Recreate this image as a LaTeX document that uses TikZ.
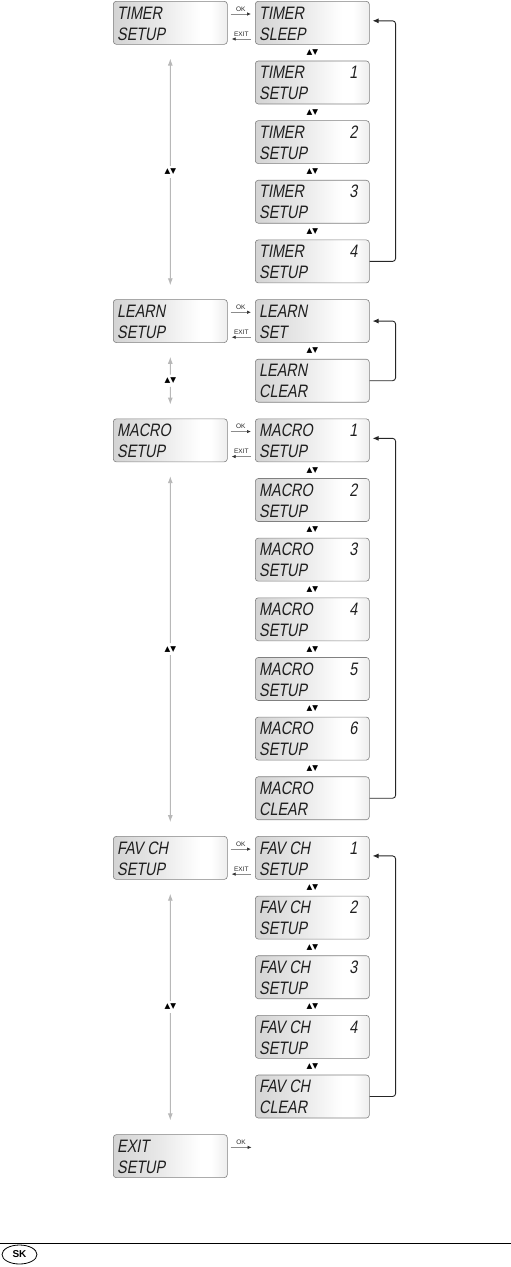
\documentclass[tikz,border=0pt]{standalone}
\usepackage{fontspec}
\setmainfont{Liberation Sans}
\newfontfamily\lcdfont[FakeStretch=0.8,FakeSlant=0.18]{Liberation Sans}
\newfontfamily\symfont{DejaVu Sans}
\usetikzlibrary{arrows.meta,shapes.geometric,calc}
\pgfdeclarehorizontalshading{lcdshade}{100bp}{color(0bp)=(black!17); color(25bp)=(black!17); color(45bp)=(black!9); color(63bp)=(white); color(68bp)=(white); color(75bp)=(black!7); color(100bp)=(black!7)}
\tikzset{
  lcd/.style={draw=black!50, line width=0.6pt, rounded corners=3pt, shading=lcdshade,
    minimum width=114pt, minimum height=43pt, inner sep=0pt, anchor=north west},
  lcdtxt/.style={font=\lcdfont\fontsize{18}{18}\selectfont, text=black!88, inner sep=0pt},
  small/.style={font=\fontsize{6.5}{7}\selectfont, inner sep=0pt, text=black!85},
  updown/.style={font=\symfont\fontsize{7.5}{7.5}\selectfont, inner sep=3pt, text=black},
  grayarr/.style={draw=black!28, line width=0.9pt, -{Latex[length=7pt,width=5pt]}},
  okarr/.style={draw=black!45, line width=0.7pt, -{Latex[length=4pt,width=3.5pt,black!80]}},
  looparr/.style={draw=black!85, line width=0.9pt, rounded corners=3pt, -{Latex[length=6pt,width=5pt]}}
}
\newcommand\lcdbox[6]{%
  \node[lcd] (#1) at (#2,#3) {};
  \node[lcdtxt, anchor=base west] (#1-a) at ($(#1.north west)+(4,18)$) {#4};
  \node[lcdtxt, anchor=base west] (#1-b) at ($(#1.north west)+(4,39)$) {#5};
  \node[lcdtxt, anchor=base east] (#1-d) at ($(#1.north east)+(-12,18)$) {#6};
}
\newcommand\okexit[2]{%
  \draw[okarr] ($(#1.north east)+(3,13)$) coordinate (#1-o1) -- ($(#2.north west)+(-4,13)$) coordinate (#1-o2);
  \node[small, anchor=base] (#1-ok) at ($(#1-o1)!0.5!(#1-o2)+(0,-3)$) {OK};
  \draw[okarr] ($(#2.north west)+(-4,38)$) coordinate (#1-e1) -- ($(#1.north east)+(4,38)$) coordinate (#1-e2);
  \node[small, anchor=base] (#1-ex) at ($(#1-e1)!0.5!(#1-e2)+(0,-3)$) {EXIT};
}
\newcommand\updn[3]{% name, upper node, lower node
  \node[updown] (#1) at ($(#2.south)!0.5!(#3.north)$) {▲▼};
}
\newcommand\grayv[3]{% name, upper node, lower node
  \updn{#1}{#2}{#3}
  \draw[grayarr] (#1.north) -- ($(#2.south)+(0,14)$);
  \draw[grayarr] (#1.south) -- ($(#3.north)+(0,-14)$);
}
\begin{document}
\begin{tikzpicture}[x=1pt,y=-1pt]
\useasboundingbox (0,0) rectangle (511,1267);
\def\P{59.65}
% left column
\lcdbox{ts}{113}{1}{TIMER}{SETUP}{}
\lcdbox{ls}{113}{1+5*\P}{LEARN}{SETUP}{}
\lcdbox{ms}{113}{1+7*\P}{MACRO}{SETUP}{}
\lcdbox{fs}{113}{1+14*\P}{FAV CH}{SETUP}{}
\lcdbox{es}{113}{1+19*\P}{EXIT}{SETUP}{}
% right column
\lcdbox{t0}{255}{1}{TIMER}{SLEEP}{}
\lcdbox{t1}{255}{1+1*\P}{TIMER}{SETUP}{1}
\lcdbox{t2}{255}{1+2*\P}{TIMER}{SETUP}{2}
\lcdbox{t3}{255}{1+3*\P}{TIMER}{SETUP}{3}
\lcdbox{t4}{255}{1+4*\P}{TIMER}{SETUP}{4}
\lcdbox{l0}{255}{1+5*\P}{LEARN}{SET}{}
\lcdbox{l1}{255}{1+6*\P}{LEARN}{CLEAR}{}
\lcdbox{m0}{255}{1+7*\P}{MACRO}{SETUP}{1}
\lcdbox{m1}{255}{1+8*\P}{MACRO}{SETUP}{2}
\lcdbox{m2}{255}{1+9*\P}{MACRO}{SETUP}{3}
\lcdbox{m3}{255}{1+10*\P}{MACRO}{SETUP}{4}
\lcdbox{m4}{255}{1+11*\P}{MACRO}{SETUP}{5}
\lcdbox{m5}{255}{1+12*\P}{MACRO}{SETUP}{6}
\lcdbox{m6}{255}{1+13*\P}{MACRO}{CLEAR}{}
\lcdbox{f0}{255}{1+14*\P}{FAV CH}{SETUP}{1}
\lcdbox{f1}{255}{1+15*\P}{FAV CH}{SETUP}{2}
\lcdbox{f2}{255}{1+16*\P}{FAV CH}{SETUP}{3}
\lcdbox{f3}{255}{1+17*\P}{FAV CH}{SETUP}{4}
\lcdbox{f4}{255}{1+18*\P}{FAV CH}{CLEAR}{}
% OK / EXIT
\okexit{ts}{t0}
\okexit{ls}{l0}
\okexit{ms}{m0}
\okexit{fs}{f0}
\draw[okarr] ($(es.north east)+(3,13)$) coordinate (es-o1) -- ++(21,0) coordinate (es-o2);
\node[small, anchor=base] (es-ok) at ($(es-o1)!0.5!(es-o2)+(0,-3)$) {OK};
% right column up/down marks
\updn{u1}{t0}{t1}\updn{u2}{t1}{t2}\updn{u3}{t2}{t3}\updn{u4}{t3}{t4}
\updn{u5}{l0}{l1}
\updn{u6}{m0}{m1}\updn{u7}{m1}{m2}\updn{u8}{m2}{m3}\updn{u9}{m3}{m4}\updn{u10}{m4}{m5}\updn{u11}{m5}{m6}
\updn{u12}{f0}{f1}\updn{u13}{f1}{f2}\updn{u14}{f2}{f3}\updn{u15}{f3}{f4}
% left gray arrows
\grayv{g1}{ts}{ls}
\grayv{g2}{ls}{ms}
\grayv{g3}{ms}{fs}
\grayv{g4}{fs}{es}
% loops
\draw[looparr] (t4.east) -- ++(26,0) |- ($(t0.east)+(3,-2)$);
\draw[looparr] (l1.east) -- ++(26,0) |- ($(l0.east)+(3,0)$);
\draw[looparr] (m6.east) -- ++(26,0) |- ($(m0.east)+(3,-2)$);
\draw[looparr] (f4.east) -- ++(26,0) |- ($(f0.east)+(3,-2)$);
% footer
\draw[line width=0.8pt] (0,1243) coordinate (fl) -- (511,1243) coordinate (fr);
\node[ellipse, draw, line width=0.8pt, minimum width=35pt, minimum height=19pt, inner sep=0pt,
  font=\bfseries\fontsize{10}{10}\selectfont] (sk) at (19.5,1254.5) {SK};
\end{tikzpicture}
\end{document}
